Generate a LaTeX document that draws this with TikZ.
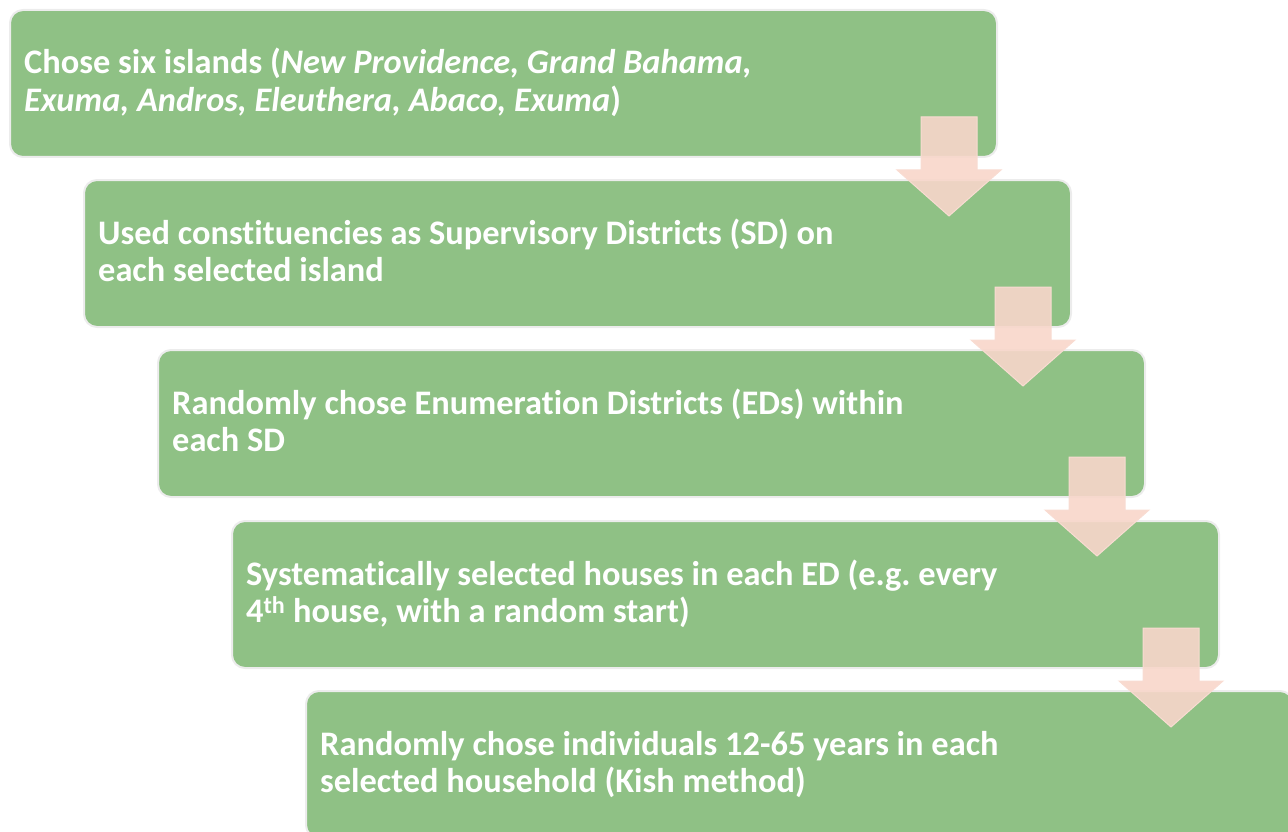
\documentclass[tikz,border=0pt]{standalone}
\usepackage{fontspec}
\setmainfont{Carlito}[Ligatures={NoCommon}]
\usetikzlibrary{calc}
\frenchspacing
\definecolor{stepgreen}{RGB}{143,193,133}
\definecolor{stepedge}{RGB}{236,236,236}
\definecolor{arrowpink}{RGB}{248,214,202}
\begin{document}
\begin{tikzpicture}[x=1pt,y=-1pt,
  stepbox/.style={draw=stepedge, line width=2pt, fill=stepgreen, rounded corners=13pt,
    minimum width=987pt, minimum height=147pt, anchor=north west, inner sep=0pt, outer sep=0pt},
  steptext/.style={anchor=base west, align=left, text=white, inner sep=0pt,
    font=\fontsize{34.4}{37.5}\selectfont\bfseries},
  downarrow/.style={fill=arrowpink, fill opacity=0.9, draw=arrowpink!85!white,
    line width=1pt, line join=miter}]
\useasboundingbox (0,0) rectangle (1288,832);

% the five steps, each shifted right and down
\node[stepbox] (b1) at (10,10) {};
\node[stepbox] (b2) at (84,180) {};
\node[stepbox] (b3) at (158,350) {};
\node[stepbox] (b4) at (232,521) {};
\node[stepbox] (b5) at (306,691) {};

% two-line captions, placed by the baseline of their last line
\node[steptext] (t1) at ($(b1.north west)+(14,101.5)$)
  {Chose six islands (\textit{New Providence, Grand Bahama,}\\\textit{Exuma, Andros, Eleuthera, Abaco, Exuma})};
\node[steptext] (t2) at ($(b2.north west)+(14,101.5)$)
  {Used constituencies as Supervisory Districts (SD) on\\each selected island};
\node[steptext] (t3) at ($(b3.north west)+(14,101.5)$)
  {Randomly chose Enumeration Districts (EDs) within\\each SD};
\node[steptext] (t4) at ($(b4.north west)+(14,101.5)$)
  {Systematically selected houses in each ED (e.g. every\\4\textsuperscript{th} house, with a random start)};
\node[steptext] (t5) at ($(b5.north west)+(14,101.5)$)
  {Randomly chose individuals 12-65 years in each\\selected household (Kish method)};

% block arrows leading from each step down to the next
\foreach \a in {b1,b2,b3,b4}{
  \draw[downarrow]
    ($(\a.south east)+(-76,-40)$) -- ($(\a.south east)+(-20,-40)$) --
    ($(\a.south east)+(-20,13)$) -- ($(\a.south east)+(4,13)$) --
    ($(\a.south east)+(-48,59)$) -- ($(\a.south east)+(-100,13)$) --
    ($(\a.south east)+(-76,13)$) -- cycle;
}
\end{tikzpicture}
\end{document}
